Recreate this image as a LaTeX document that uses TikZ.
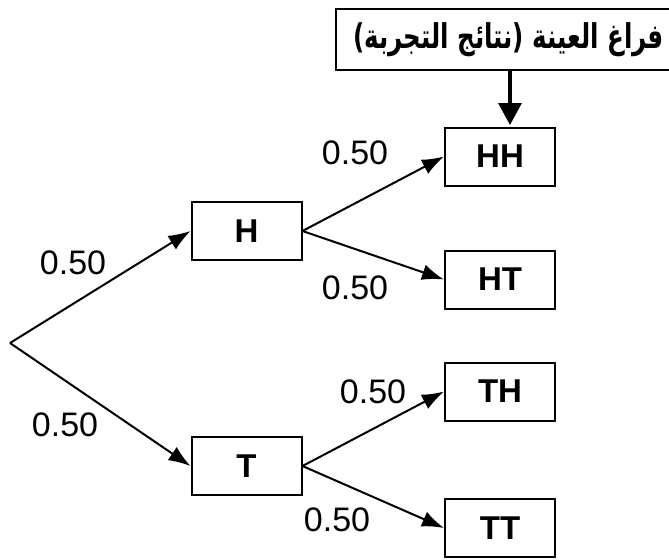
\documentclass[tikz,border=0pt]{standalone}
\usepackage{fontspec}
\setmainfont{Liberation Sans}
\newfontfamily\arabicfont[Script=Arabic]{DejaVu Sans}
\TeXXeTstate=1
\usetikzlibrary{arrows.meta}

\begin{document}
\begin{tikzpicture}[x=0.5pt,y=-0.5pt,
  outcome/.style={draw,line width=1pt,minimum width=55pt,minimum height=29pt,inner sep=0pt,font=\fontsize{16.5}{20}\selectfont\bfseries},
  prob/.style={inner sep=0pt,font=\fontsize{17}{20}\selectfont},
  branch/.style={line width=1pt,-{Latex[length=11pt,width=8pt]}}]
  \useasboundingbox (0,0) rectangle (669,559);
  \clip (0,0) rectangle (669,559);
  % sample space box
  \node[draw,line width=1.1pt,anchor=north west,minimum height=30.5pt,inner xsep=8.5pt,inner ysep=0pt,
    font=\fontsize{15.5}{19}\selectfont\arabicfont\bfseries] (space) at (335,8)
    {\resizebox{155.5pt}{!}{\scalebox{0.72}[1]{\beginR فراغ العينة (نتائج التجربة)\endR}}};
  \coordinate (root) at (10,343);
  \node[outcome] (h) at (246.5,231) {H};
  \node[outcome] (t) at (246.5,466) {T};
  \node[outcome] (hh) at (500,156.5) {HH};
  \node[outcome] (ht) at (500,279.5) {HT};
  \node[outcome] (th) at (500,391.5) {TH};
  \node[outcome] (tt) at (500,528) {TT};
  \coordinate (drop) at (510,125);
  \draw[line width=1.6pt,-{Triangle[length=11pt,width=11.5pt]}] (space.south -| drop) -- (drop);
  % branches
  \draw[branch] (root) -- (h.west);
  \draw[branch] (root) -- (t.west);
  \draw[branch] (h.east) -- (hh.west);
  \draw[branch] (h.east) -- (ht.west);
  \draw[branch] (t.east) -- (th.west);
  \draw[branch] (t.east) -- (tt.west);
  % probabilities
  \node[prob] (p1) at (73,263) {0.50};
  \node[prob] (p2) at (65,425) {0.50};
  \node[prob] (p3) at (355,153) {0.50};
  \node[prob] (p4) at (355,288) {0.50};
  \node[prob] (p5) at (373,392) {0.50};
  \node[prob] (p6) at (337,520) {0.50};
\end{tikzpicture}
\end{document}
